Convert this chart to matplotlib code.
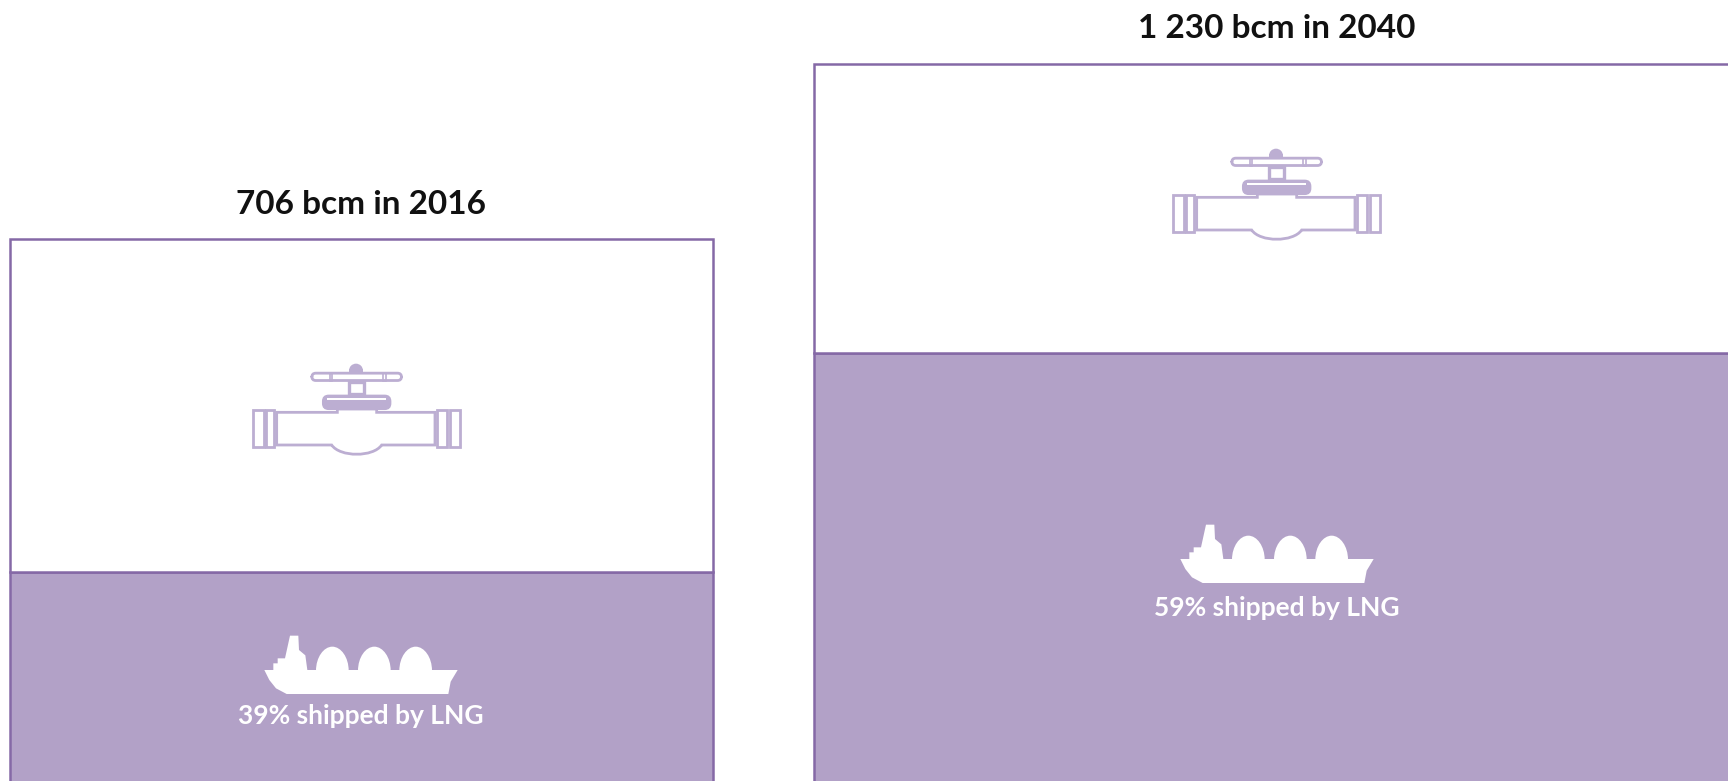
import matplotlib
matplotlib.use('Agg')
import matplotlib.pyplot as plt
from matplotlib.path import Path
from matplotlib.patches import Polygon, Rectangle, FancyBboxPatch, Wedge, PathPatch

W = 1728
H = 781

# data
years = [2016, 2040]
total_labels = ['706', '1 230']
lng_share = [39, 59]

FILL = '#b2a1c7'
EDGE = '#8569a6'
ICON = '#bcaed2'

plt.rcParams['font.family'] = ['Lato', 'DejaVu Sans']

fig = plt.figure(figsize=(W / 100, H / 100), dpi=100, facecolor='white')


def add_panel(x0, x1, top, divider, share):
    # axes run from the top of the box to just below the image edge
    bottom_px = H + 6
    pct_per_px = (100 - share) / (divider - top)
    ymin = share - (bottom_px - divider) * pct_per_px
    ax = fig.add_axes([x0 / W, 1 - bottom_px / H, (x1 - x0) / W, (bottom_px - top) / H])
    ax.bar(0, share - ymin, bottom=ymin, width=1, color=FILL, edgecolor=EDGE, linewidth=1.8, clip_on=False)
    ax.bar(0, 100 - share, bottom=share, width=1, color='white', edgecolor=EDGE, linewidth=1.8, clip_on=False)
    ax.set_xlim(-0.5, 0.5)
    ax.set_ylim(ymin, 100)
    ax.axis('off')
    return ax


add_panel(10, 713, 239, 572, lng_share[0])
add_panel(814, W + 10, 64, 353, lng_share[1])

# overlay in image pixels for the icons and the texts
over = fig.add_axes([0, 0, 1, 1])
over.set_xlim(0, W)
over.set_ylim(H, 0)
over.axis('off')
over.patch.set_alpha(0)


def draw_valve(ox, oy):
    def p(x, y):
        return (ox + x / 3, oy + y / 3)

    def box(x0, y0, x1, y1, lw=2.0):
        over.add_patch(Rectangle(p(x0, y0), (x1 - x0) / 3, (y1 - y0) / 3, fill=False, edgecolor=ICON, linewidth=lw))

    box(70, 181, 103, 290)
    box(109, 181, 133, 290)
    box(622, 181, 652, 290)
    box(660, 181, 690, 290)
    verts = [(140, 187), (322, 187), (322, 177), (440, 177), (440, 187), (615, 187), (615, 285), (455, 285),
             (430, 322), (330, 322), (305, 285), (140, 285), (140, 187)]
    codes = [Path.MOVETO] + [Path.LINETO] * 7 + [Path.CURVE4] * 3 + [Path.LINETO, Path.CLOSEPOLY]
    over.add_patch(PathPatch(Path([p(*q) for q in verts], codes), facecolor='white', edgecolor=ICON, linewidth=2.0))
    # bonnet
    over.add_patch(FancyBboxPatch(p(290, 148), 180 / 3, 18 / 3, boxstyle='round,pad=4,rounding_size=6',
                                  facecolor=ICON, edgecolor=ICON, linewidth=1))
    over.add_patch(Rectangle(p(292, 144), 176 / 3, 7 / 3, facecolor='white', edgecolor='none'))
    # stem
    box(357, 95, 403, 133, lw=2.4)
    # handwheel
    over.add_patch(FancyBboxPatch(p(250, 74), 260 / 3, 13 / 3, boxstyle='round,pad=1.5,rounding_size=4',
                                  facecolor='white', edgecolor=ICON, linewidth=2.0))
    for x in [300, 460]:
        box(x, 70, x + 7, 92, lw=1.2)
    over.add_patch(Wedge(p(378, 62), 7, 180, 360, facecolor=ICON, edgecolor='none'))
    over.add_patch(Rectangle(p(357, 58), 42 / 3, 12 / 3, facecolor=ICON, edgecolor='none'))


def draw_ship(ox, oy):
    def p(x, y):
        return (ox + x / 3, oy + y / 3)

    hull = [(103, 150), (130, 150), (130, 130), (143, 130), (143, 115), (165, 115),
            (180, 47), (205, 47), (207, 90), (226, 106), (232, 150), (683, 150), (662, 185),
            (655, 222), (170, 222), (138, 205), (118, 180)]
    over.add_patch(Polygon([p(*q) for q in hull], closed=True, facecolor='white', edgecolor='none'))
    # tank domes
    for left, right in [(258, 356), (384, 482), (508, 606)]:
        cx = (left + right) / 2
        verts = [(left, 152), (left, 112), (cx - 26, 80), (cx, 80), (cx + 26, 80), (right, 112), (right, 152), (left, 152)]
        codes = [Path.MOVETO] + [Path.CURVE4] * 6 + [Path.CLOSEPOLY]
        over.add_patch(PathPatch(Path([p(*q) for q in verts], codes), facecolor='white', edgecolor='none'))


draw_valve(230, 350)
draw_valve(1150, 135)
draw_ship(230, 620)
draw_ship(1146, 509)

over.text(361, 204, f'{total_labels[0]} bcm in {years[0]}', ha='center', va='center',
          fontsize=24, fontweight='bold', color='#111111')
over.text(1277, 28, f'{total_labels[1]} bcm in {years[1]}', ha='center', va='center',
          fontsize=24, fontweight='bold', color='#111111')
over.text(361, 716, f'{lng_share[0]}% shipped by LNG', ha='center', va='center',
          fontsize=19, fontweight='bold', color='white')
over.text(1277, 608, f'{lng_share[1]}% shipped by LNG', ha='center', va='center',
          fontsize=19, fontweight='bold', color='white')

fig.savefig('out.png', dpi=100, facecolor='white')
